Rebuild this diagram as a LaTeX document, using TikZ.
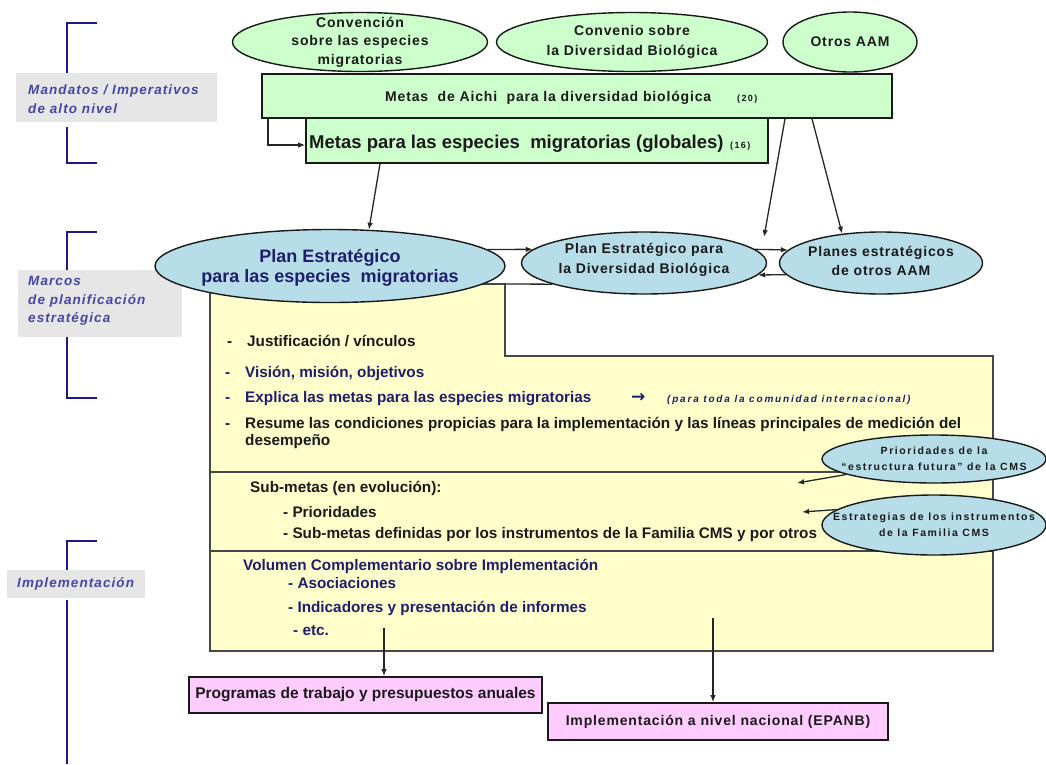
\documentclass[tikz,border=0pt]{standalone}
\usepackage{fontspec}
\setmainfont{Liberation Sans}
\newfontfamily\spf[LetterSpace=6]{Liberation Sans}
\newfontfamily\lblf[LetterSpace=8]{Liberation Sans}
\newfontfamily\tinyf[LetterSpace=15]{Liberation Sans}
\newfontfamily\smallitf[LetterSpace=18]{Liberation Sans}
\newfontfamily\symf{DejaVu Sans}
\usetikzlibrary{shapes.geometric,arrows.meta}
\definecolor{gfill}{HTML}{CCFFCC}
\definecolor{bfill}{HTML}{B7DEE8}
\definecolor{yfill}{HTML}{FFFFCC}
\definecolor{pfill}{HTML}{FFCCFF}
\definecolor{lgray}{HTML}{E6E6E6}
\definecolor{brk}{HTML}{1A1A8C}
\definecolor{lblc}{HTML}{4646A8}
\definecolor{navy}{HTML}{1E1E6E}
\definecolor{dk}{HTML}{1A1A1A}
\newcommand\fs[2]{\fontsize{#1}{#2}\selectfont}
\begin{document}
\begin{tikzpicture}[x=1pt,y=-1pt,
  gell/.style={ellipse,draw=black!90,line width=1.4pt,fill=gfill,inner sep=0pt},
  bell/.style={ellipse,draw=black!90,line width=1.4pt,fill=bfill,inner sep=0pt},
  etext/.style={align=center,inner sep=0pt,text=dk,font=\spf\bfseries\fs{14}{18.5}},
  grect/.style={rectangle,draw=black!90,line width=1.6pt,fill=gfill,inner sep=0pt},
  prect/.style={rectangle,draw=black!90,line width=1.8pt,fill=pfill,inner sep=0pt,text=dk},
  arr/.style={-{Latex[length=7pt,width=5.5pt]},line width=1.3pt,draw=black!85},
  conn/.style={line width=1.3pt,draw=black!85},
  brack/.style={draw=brk,line width=2pt},
  lbl/.style={text=lblc,font=\lblf\bfseries\itshape\fs{13.5}{18.5},align=left,inner sep=0pt,anchor=west},
  yt/.style={anchor=base west,inner sep=0pt,text=dk,font=\bfseries\fs{15.3}{18}},
  yn/.style={yt,text=navy},
  ybox/.style={draw=black!72,line width=2pt,fill=yfill},
  ydiv/.style={draw=black!72,line width=2pt},
]
\useasboundingbox (0,0) rectangle (1046,764);

% ---- left brackets and labels
\draw[brack] (97,23) -- (67,23) -- (67,76);
\draw[brack] (67,127) -- (67,163) -- (97,163);
\fill[lgray] (16,73) rectangle (217,122);
\node[lbl] (lab1) at (28,99) {Mandatos / Imperativos\\de alto nivel};

\draw[brack] (97,232) -- (67,232) -- (67,272);
\draw[brack] (67,337) -- (67,398) -- (97,398);
\fill[lgray] (18,270) rectangle (182,337);
\node[lbl] (lab2) at (28,301) {Marcos\\de planificación\\estratégica};

\draw[brack] (97,541) -- (67,541) -- (67,570);
\draw[brack] (67,600) -- (67,764);
\fill[lgray] (7,570) rectangle (145,598);
\node[lbl] (lab3) at (17,584) {Implementación};

% ---- yellow box
\draw[ybox] (210,284) -- (505,284) -- (505,356) -- (993,356) -- (993,651) -- (210,651) -- cycle;
\draw[ydiv] (210,472) -- (993,472);
\draw[ydiv] (210,551) -- (993,551);

\node[yt] (d1) at (227,346) {-};
\node[yt] (t1) at (247,346) {Justificación / vínculos};
\node[yn] (d2) at (225,377) {-};
\node[yn] (t2) at (245,377) {Visión, misión, objetivos};
\node[yn] (d3) at (225,402) {-};
\node[yn] (t3) at (245,402) {Explica las metas para las especies migratorias};
\node[yn,font=\symf\bfseries\fs{17}{18}] (t3a) at (631,402) {→};
\node[yn,font=\smallitf\bfseries\itshape\fs{10}{12}] (t3b) at (667,402) {(para toda la comunidad internacional)};
\node[yt] (d4) at (225,428) {-};
\node[yt] (t4) at (245,428) {Resume las condiciones propicias para la implementación y las líneas principales de medición del};
\node[yt] (t4b) at (245,445) {desempeño};

\node[yt] (s1) at (250,492) {Sub-metas (en evolución):};
\node[yt] (s2) at (283,517) {- Prioridades};
\node[yt] (s3) at (283,538) {- Sub-metas definidas por los instrumentos de la Familia CMS y por otros};
\node[yn] (v1) at (243,570) {Volumen Complementario sobre Implementación};
\node[yn] (v2) at (288,588) {- Asociaciones};
\node[yn] (v3) at (288,612) {- Indicadores y presentación de informes};
\node[yn] (v4) at (293,635) {- etc.};

% ---- right small ellipses
\node[bell,minimum width=224pt,minimum height=48pt] (prio) at (934,459) {};
\node[etext,font=\tinyf\bfseries\fs{10.5}{16}] (priot) at (prio.center) {Prioridades de la\\“estructura futura” de la CMS};
\node[bell,minimum width=224pt,minimum height=60pt] (estr) at (934,525) {};
\node[etext,font=\tinyf\bfseries\fs{10.5}{16}] (estrt) at (estr.center) {Estrategias de los instrumentos\\de la Familia CMS};
\coordinate (e1) at (797,483);
\coordinate (e2) at (802,512);
\draw[arr] (prio.190) -- (e1);
\draw[arr] (estr.171) -- (e2);

% ---- top row
\node[gell,minimum width=255pt,minimum height=59pt] (cms) at (360,42) {};
\node[etext] (cmst) at (cms.center) {Convención\\sobre las especies\\migratorias};
\node[gell,minimum width=271pt,minimum height=59pt] (cdb) at (632,42) {};
\node[etext,font=\spf\bfseries\fs{14}{19.5}] (cdbt) at (cdb.center) {Convenio sobre\\la Diversidad Biológica};
\node[gell,minimum width=134pt,minimum height=60pt] (otros) at (850,42) {};
\node[etext] (otrost) at (otros.center) {Otros AAM};

\node[grect,minimum width=630pt,minimum height=44pt] (aichi) at (577,96) {};
\node[yt,font=\spf\bfseries\fs{14}{18}] (aichit) at (385,101) {Metas\ \ de Aichi\ \ para la diversidad biológica};
\node[yt,font=\tinyf\bfseries\fs{9}{11}] (aichin) at (737,101) {(20)};

\node[grect,minimum width=462pt,minimum height=45pt] (migr) at (537,140.5) {};
\node[yt,font=\bfseries\fs{18.5}{20}] (migrt) at (309,148) {Metas para las especies\ \ migratorias (globales)};
\node[yt,font=\tinyf\bfseries\fs{9}{11}] (migrn) at (730,148) {(16)};

\draw[arr] ([xshift=-309pt]aichi.south) |- ([yshift=-4.5pt]migr.west);

% ---- second row
\node[bell,minimum width=350pt,minimum height=73pt] (pem) at (330,266) {};
\node[etext,text=navy,font=\bfseries\fs{18}{20.5}] (pemt) at ([yshift=-2pt]pem.center) {Plan Estratégico\\para las especies\ \ migratorias};
\node[bell,minimum width=245pt,minimum height=62pt] (pecdb) at (644,263) {};
\node[etext,font=\spf\bfseries\fs{14}{19.5}] (pecdbt) at ([yshift=3pt]pecdb.center) {Plan Estratégico para\\la Diversidad Biológica};
\node[bell,minimum width=203pt,minimum height=62pt] (peotros) at (881,263) {};
\node[etext,font=\spf\bfseries\fs{14}{19.5}] (peotrost) at ([yshift=2pt]peotros.center) {Planes estratégicos\\de otros AAM};

\coordinate (t1c) at (764,237);
\draw[arr] ([xshift=-157pt]migr.south) -- (pem.43);
\draw[arr] ([xshift=208pt]aichi.south) -- (t1c);
\draw[arr] ([xshift=235pt]aichi.south) -- (peotros.143);
\draw[arr] (pem.6) -- (pecdb.173);
\draw[arr] (pecdb.7) -- (peotros.172);
\draw[arr] (peotros.187) -- (pecdb.354);
\coordinate (ycorner) at (505,284);
\draw[conn] (pecdb.193) -- (ycorner);

% ---- bottom boxes
\node[prect,minimum width=353pt,minimum height=36pt,font=\bfseries\fs{15.5}{18}] (prog) at (365.5,695) {Programas de trabajo y presupuestos anuales};
\node[prect,minimum width=340pt,minimum height=37pt,font=\spf\bfseries\fs{14}{18}] (nat) at (718,721.5) {Implementación a nivel nacional (EPANB)};
\coordinate (b1) at (384,628);
\coordinate (b2) at (713,618);
\draw[arr] (b1) -- (b1 |- prog.north);
\draw[arr] (b2) -- (b2 |- nat.north);
\end{tikzpicture}
\end{document}
